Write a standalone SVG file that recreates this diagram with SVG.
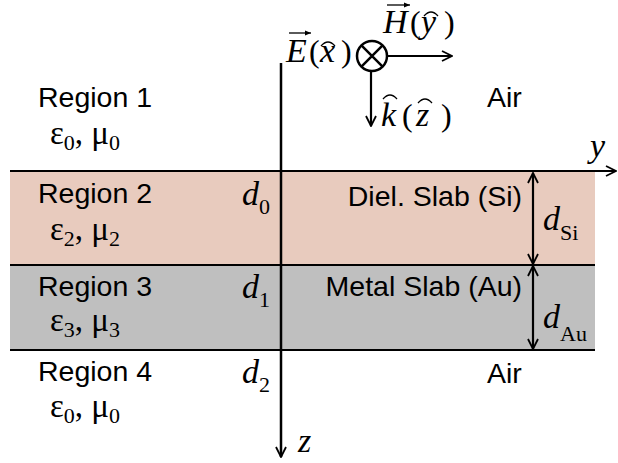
<svg xmlns="http://www.w3.org/2000/svg" width="618" height="463" viewBox="0 0 618 463">
<defs>
<style>
.lbl{font-family:"Liberation Sans",Arial,sans-serif;font-size:28.5px;fill:#000}
.sym{font-family:"Liberation Serif","Times New Roman",serif;font-size:33px;fill:#000}
.sub{font-family:"Liberation Serif","Times New Roman",serif;font-size:22px;fill:#000}
.it{font-family:"Liberation Serif","Times New Roman",serif;font-style:italic;font-size:34px;fill:#000}
.rom{font-family:"Liberation Serif","Times New Roman",serif;font-size:32px;fill:#000}
.ln{stroke:#000;stroke-width:2.2;fill:none}
.ax{stroke:#000;stroke-width:2.5;fill:none}
.acc{stroke:#000;stroke-width:1.3;fill:none}
</style>
<marker id="oa" viewBox="0 0 12 12" refX="11" refY="6" markerWidth="12" markerHeight="12" markerUnits="userSpaceOnUse" orient="auto-start-reverse">
<path d="M1,1 L11,6 L1,11" fill="none" stroke="#000" stroke-width="1.8"/>
</marker>
<marker id="sa" viewBox="0 0 8 8" refX="7" refY="4" markerWidth="7" markerHeight="7" markerUnits="userSpaceOnUse" orient="auto">
<path d="M0,1 L7,4 L0,7 Z" fill="#000"/>
</marker>
</defs>
<rect width="618" height="463" fill="#fff"/>

<g id="region1">
<text class="lbl" x="38" y="107">Region 1</text>
<text class="sym" x="50" y="144">ε<tspan class="sub" dy="6">0</tspan><tspan dy="-6">, μ</tspan><tspan class="sub" dy="6">0</tspan></text>
<text class="lbl" x="487" y="107">Air</text>
</g>

<g id="region2">
<rect x="10" y="171" width="585" height="94" fill="#E8CBBE"/>
<text class="lbl" x="38" y="203">Region 2</text>
<text class="sym" x="50" y="240">ε<tspan class="sub" dy="6">2</tspan><tspan dy="-6">, μ</tspan><tspan class="sub" dy="6">2</tspan></text>
<text class="lbl" x="522" y="206" text-anchor="end">Diel. Slab (Si)</text>
<text class="it" x="242" y="205">d<tspan class="sub" font-style="normal" dy="9">0</tspan></text>
</g>

<g id="region3">
<rect x="10" y="265" width="585" height="85" fill="#BFBFBF"/>
<text class="lbl" x="38" y="296">Region 3</text>
<text class="sym" x="50" y="331">ε<tspan class="sub" dy="6">3</tspan><tspan dy="-6">, μ</tspan><tspan class="sub" dy="6">3</tspan></text>
<text class="lbl" x="522" y="296" text-anchor="end">Metal Slab (Au)</text>
<text class="it" x="242" y="298">d<tspan class="sub" font-style="normal" dy="9">1</tspan></text>
</g>

<g id="region4">
<text class="lbl" x="38" y="381">Region 4</text>
<text class="sym" x="50" y="417">ε<tspan class="sub" dy="6">0</tspan><tspan dy="-6">, μ</tspan><tspan class="sub" dy="6">0</tspan></text>
<text class="lbl" x="487" y="383">Air</text>
<text class="it" x="242" y="383">d<tspan class="sub" font-style="normal" dy="9">2</tspan></text>
</g>

<g id="dimensions">
<text class="it" x="543" y="230">d<tspan class="sub" font-style="normal" dy="10">Si</tspan></text>
<text class="it" x="543" y="328">d<tspan class="sub" font-style="normal" dy="13">Au</tspan></text>
</g>

<g id="field">
<circle cx="372" cy="56" r="15" class="ax"/>
<path d="M361.4,45.4 L382.6,66.6 M382.6,45.4 L361.4,66.6" class="ax"/>
<text class="it" x="286" y="62">E</text>
<text class="rom" x="309" y="62">(</text>
<text class="it" x="320" y="62">x</text>
<text class="rom" x="341" y="62">)</text>
<path d="M321,46 Q328,38 335,46" class="acc"/>
<text class="it" x="383" y="33">H</text>
<text class="rom" x="410" y="33">(</text>
<text class="it" x="421" y="33">y</text>
<text class="rom" x="444" y="33">)</text>
<path d="M424,16 Q431,8 438,16" class="acc"/>
<text class="it" x="381" y="126">k</text>
<text class="rom" x="402" y="126">(</text>
<text class="it" x="416" y="126">z</text>
<text class="rom" x="441" y="126">)</text>
<path d="M383,99 Q390,91 397,99 M418,103 Q425,95 432,103" class="acc"/>
<text class="it" x="590" y="157" font-size="36">y</text>
<text class="it" x="298" y="452" font-size="40">z</text>
</g>

<g id="connectors">
<line x1="10" y1="171" x2="616" y2="171" class="ln" marker-end="url(#oa)"/>
<line x1="10" y1="265" x2="595" y2="265" class="ln"/>
<line x1="10" y1="350" x2="595" y2="350" class="ln"/>
<line x1="281" y1="63" x2="281" y2="457" class="ax" marker-end="url(#oa)"/>
<line x1="387" y1="56" x2="452" y2="56" class="ln" marker-end="url(#oa)"/>
<line x1="371" y1="71" x2="371" y2="126" class="ln" marker-end="url(#oa)"/>
<line x1="533" y1="173" x2="533" y2="264" class="ln" stroke-width="1.5" marker-start="url(#oa)" marker-end="url(#oa)"/>
<line x1="533" y1="266" x2="533" y2="349" class="ln" stroke-width="1.5" marker-start="url(#oa)" marker-end="url(#oa)"/>
<line x1="289" y1="33" x2="311" y2="33" class="acc" marker-end="url(#sa)"/>
<line x1="387" y1="5" x2="410" y2="5" class="acc" marker-end="url(#sa)"/>
</g>
</svg>
